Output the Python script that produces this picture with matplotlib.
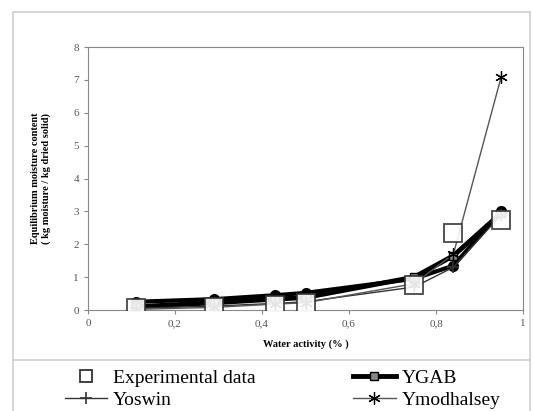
import matplotlib.pyplot as plt
from matplotlib.lines import Line2D
from matplotlib.patches import Rectangle
from matplotlib.ticker import FuncFormatter

plt.rcParams['font.family'] = ['Liberation Serif', 'DejaVu Serif']

aw = [0.11, 0.29, 0.43, 0.50, 0.75, 0.84, 0.95]
experimental = [0.05, 0.10, 0.15, 0.20, 0.75, 2.35, 2.75]
ygab = [0.10, 0.22, 0.33, 0.38, 1.00, 1.65, 2.95]
gab_circles = [0.25, 0.33, 0.45, 0.52, 0.95, 1.35, 3.00]
yoswin = [0.05, 0.12, 0.20, 0.25, 0.70, 1.30, 2.90]
ymodhalsey = [0.02, 0.08, 0.18, 0.22, 0.80, 1.70, 7.10]

fig = plt.figure(figsize=(5.33, 4.11), dpi=100)
fig.patch.set_facecolor('white')

# marco exterior y separador de la leyenda
frame = '#cfcfcf'
fig.add_artist(Rectangle((13/533, -0.01), 517/533, 1 - 12/411 + 0.01,
                         transform=fig.transFigure, fill=False, ec=frame, lw=1.2))
fig.add_artist(Line2D([13/533, 530/533], [1 - 360/411, 1 - 360/411],
                      transform=fig.transFigure, color=frame, lw=1.2))

ax = fig.add_axes([88/533, 1 - 310/411, 435/533, 263/411])

ax.plot(aw, gab_circles, color='black', lw=3, marker='o', ms=7, zorder=3)
ax.plot(aw, ygab, color='black', lw=3.5, marker='s', ms=6,
        mfc='#888888', mec='black', zorder=4)
ax.plot(aw, yoswin, color='#333333', lw=1, marker='+', ms=9, mew=1.2, zorder=5)
ax.plot(aw, ymodhalsey, color='#555555', lw=1, marker=(6, 2, 0), ms=9,
        mew=0.9, mec='black', zorder=5)
ax.plot(aw, experimental, ls='none', marker='s', ms=13, mfc='white',
        mec='#333333', mew=1.3, zorder=6, alpha=0.9)

ax.set_xlim(0, 1)
ax.set_ylim(0, 8)
ax.set_xticks([0, 0.2, 0.4, 0.6, 0.8, 1])
ax.set_yticks(range(0, 9))
ax.xaxis.set_major_formatter(FuncFormatter(lambda v, p: f'{v:g}'.replace('.', ',')))
ax.tick_params(labelsize=8, colors='#888888', labelcolor='#555555', length=3)
for s in ax.spines.values():
    s.set_color('#888888')

ax.set_xlabel('Water activity (% )', fontsize=7.5, fontweight='bold', labelpad=8)
ax.set_ylabel('Equilibrium moisture content\n( kg moisture / kg dried solid)',
              fontsize=7.5, fontweight='bold', labelpad=16)

handles = [
    Line2D([], [], ls='none', marker='s', ms=9, mfc='white', mec='#333333', mew=1.3),
    Line2D([], [], color='#333333', lw=1, marker='+', ms=9, mew=1.2),
    Line2D([], [], color='black', lw=3.5, marker='s', ms=6, mfc='#888888', mec='black'),
    Line2D([], [], color='#555555', lw=1, marker=(6, 2, 0), ms=9, mew=0.9, mec='black'),
]
labels = ['Experimental data', 'Yoswin', 'YGAB', 'Ymodhalsey']
fig.legend(handles, labels, ncol=2, loc='center', bbox_to_anchor=(0.53, 0.053),
           frameon=False, fontsize=14, columnspacing=5, handlelength=2.2,
           handletextpad=0.3, labelspacing=0.2, borderpad=0)

fig.savefig('out.png', dpi=100)
